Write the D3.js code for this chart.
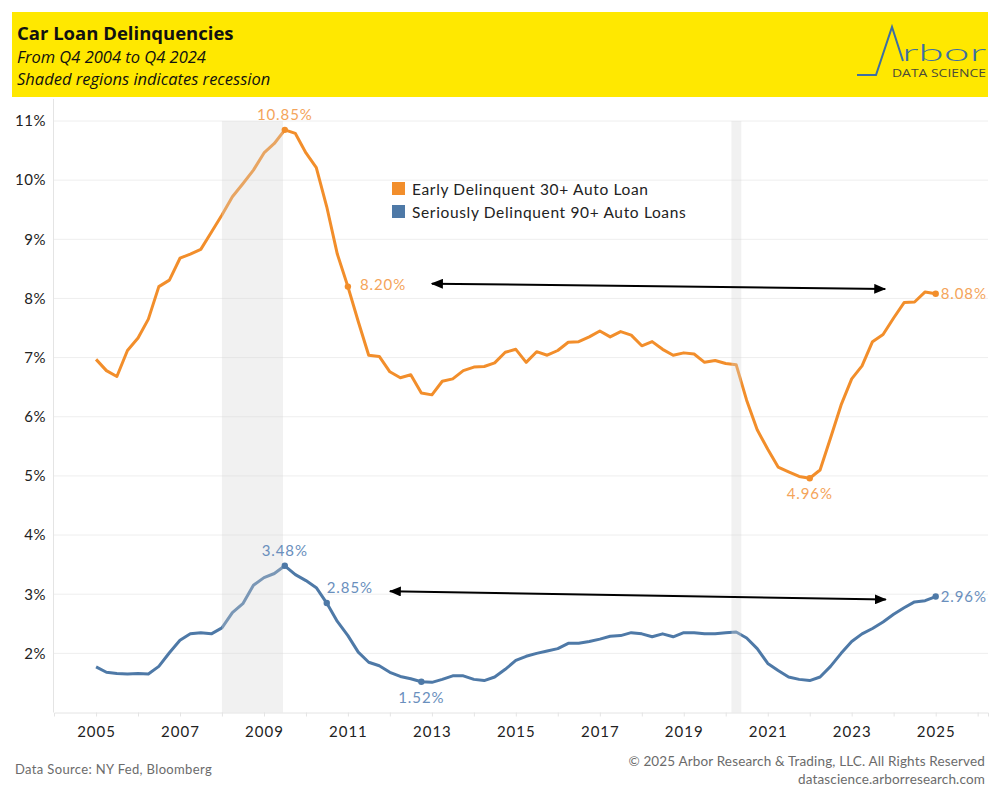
<!DOCTYPE html>
<html>
<head>
<meta charset="utf-8">
<script src="https://cdn.jsdelivr.net/npm/d3@7"></script>
<style>
  body { margin: 0; background: #fff; }
  svg { display: block; font-family: Lato, "Noto Sans", sans-serif; }
</style>
</head>
<body>
<script>
// Quarters, Q4 2004 to Q4 2024
const quarters = [
  "2004Q4",
  "2005Q1","2005Q2","2005Q3","2005Q4",
  "2006Q1","2006Q2","2006Q3","2006Q4",
  "2007Q1","2007Q2","2007Q3","2007Q4",
  "2008Q1","2008Q2","2008Q3","2008Q4",
  "2009Q1","2009Q2","2009Q3","2009Q4",
  "2010Q1","2010Q2","2010Q3","2010Q4",
  "2011Q1","2011Q2","2011Q3","2011Q4",
  "2012Q1","2012Q2","2012Q3","2012Q4",
  "2013Q1","2013Q2","2013Q3","2013Q4",
  "2014Q1","2014Q2","2014Q3","2014Q4",
  "2015Q1","2015Q2","2015Q3","2015Q4",
  "2016Q1","2016Q2","2016Q3","2016Q4",
  "2017Q1","2017Q2","2017Q3","2017Q4",
  "2018Q1","2018Q2","2018Q3","2018Q4",
  "2019Q1","2019Q2","2019Q3","2019Q4",
  "2020Q1","2020Q2","2020Q3","2020Q4",
  "2021Q1","2021Q2","2021Q3","2021Q4",
  "2022Q1","2022Q2","2022Q3","2022Q4",
  "2023Q1","2023Q2","2023Q3","2023Q4",
  "2024Q1","2024Q2","2024Q3","2024Q4"
];

// Early Delinquent 30+ (%)
const early30 = [
  6.97,
  6.78, 6.68, 7.12, 7.33,
  7.65, 8.20, 8.31, 8.68,
  8.75, 8.83, 9.12, 9.41,
  9.72, 9.94, 10.17, 10.46,
  10.62, 10.85, 10.79, 10.46,
  10.21, 9.55, 8.75, 8.20,
  7.61, 7.04, 7.02, 6.76,
  6.66, 6.71, 6.40, 6.37,
  6.60, 6.64, 6.78, 6.84,
  6.85, 6.91, 7.09, 7.14,
  6.92, 7.10, 7.04, 7.12,
  7.26, 7.27, 7.35, 7.45,
  7.35, 7.44, 7.38, 7.20,
  7.27, 7.14, 7.04, 7.08,
  7.06, 6.92, 6.95, 6.90,
  6.88, 6.28, 5.78, 5.45,
  5.15, 5.07, 4.99, 4.96,
  5.10, 5.64, 6.20, 6.64,
  6.86, 7.27, 7.39, 7.67,
  7.93, 7.94, 8.11, 8.08
];

// Seriously Delinquent 90+ (%)
const serious90 = [
  1.77,
  1.68, 1.66, 1.65, 1.66,
  1.65, 1.78, 2.01, 2.22,
  2.33, 2.35, 2.33, 2.43,
  2.69, 2.84, 3.15, 3.28,
  3.35, 3.48, 3.33, 3.23,
  3.11, 2.85, 2.54, 2.30,
  2.02, 1.85, 1.79, 1.68,
  1.61, 1.57, 1.52, 1.51,
  1.56, 1.62, 1.62, 1.56,
  1.54, 1.60, 1.73, 1.88,
  1.95, 2.00, 2.04, 2.08,
  2.17, 2.17, 2.20, 2.24,
  2.29, 2.30, 2.35, 2.33,
  2.28, 2.33, 2.28, 2.35,
  2.35, 2.33, 2.33, 2.35,
  2.36, 2.26, 2.08, 1.83,
  1.71, 1.60, 1.56, 1.54,
  1.60, 1.78, 2.00, 2.20,
  2.33, 2.42, 2.53, 2.66,
  2.77, 2.87, 2.89, 2.96
];

const seriesNames = ["Early Delinquent 30+ Auto Loan", "Seriously Delinquent 90+ Auto Loans"];
const yTicks = [2, 3, 4, 5, 6, 7, 8, 9, 10, 11];
const xLabelYears = [2005, 2007, 2009, 2011, 2013, 2015, 2017, 2019, 2021, 2023, 2025];
const xTickYears = d3.range(2005, 2027);

// recessions (start, end)
const recessions = [
  ["2008-01-01", "2009-06-15"],
  ["2020-02-20", "2020-05-15"]
];

// labelled points: series index, quarter, placement
const labelled = [
  [0, "2009Q2", "above"], [0, "2010Q4", "rightFar"], [0, "2021Q4", "below"], [0, "2024Q4", "right"],
  [1, "2009Q2", "above"], [1, "2010Q2", "aboveRight"], [1, "2012Q3", "below"], [1, "2024Q4", "right"]
];

// comparison arrows (date, value) -> (date, value)
const arrows = [
  [["2013-01-01", 8.25], ["2023-10-20", 8.16]],
  [["2012-01-01", 3.05], ["2023-10-25", 2.91]]
];

// quarter "2009Q2" -> first day after the quarter (Tableau puts Q4 2004 on the 2005 tick)
function qDate(q) {
  return new Date(+q.slice(0, 4), +q.slice(5) * 3, 1);
}

const width = 1000, height = 800;
const plot = {left: 54, right: 988, top: 99, bottom: 712.5};
const colors = ["#f28e2b", "#4e79a7"];
const labelColors = ["#f4a45a", "#6a8fbd"];

const svg = d3.select("body").append("svg")
  .attr("width", width)
  .attr("height", height);

// header band
svg.append("rect")
  .attr("x", 12).attr("y", 12)
  .attr("width", 976).attr("height", 85)
  .attr("fill", "#ffe800");
svg.append("text")
  .attr("x", 17).attr("y", 40)
  .attr("font-family", "'Open Sans', sans-serif")
  .attr("font-size", 18.5).attr("font-weight", "bold")
  .attr("fill", "#111")
  .text("Car Loan Delinquencies");
svg.append("text")
  .attr("x", 17).attr("y", 63)
  .attr("font-family", "'Open Sans', sans-serif")
  .attr("font-size", 16.5).attr("font-style", "italic")
  .attr("fill", "#111")
  .text("From Q4 2004 to Q4 2024");
svg.append("text")
  .attr("x", 17).attr("y", 85)
  .attr("font-family", "'Open Sans', sans-serif")
  .attr("font-size", 16.5).attr("font-style", "italic")
  .attr("fill", "#111")
  .text("Shaded regions indicates recession");

// logo
const logo = svg.append("g");
logo.append("path")
  .attr("d", "M857,75 L876,75 L892,27 L903,61")
  .attr("fill", "none")
  .attr("stroke", "#3d6fa3")
  .attr("stroke-width", 2);
logo.append("text")
  .attr("x", 986).attr("y", 61)
  .attr("text-anchor", "end")
  .attr("font-family", "Lato, sans-serif")
  .attr("font-size", 24).attr("font-weight", 300)
  .attr("fill", "#3d6fa3")
  .attr("textLength", 84)
  .attr("lengthAdjust", "spacingAndGlyphs")
  .text("rbor");
logo.append("text")
  .attr("x", 986).attr("y", 77)
  .attr("text-anchor", "end")
  .attr("font-family", "'Open Sans', sans-serif")
  .attr("font-size", 10.5)
  .attr("fill", "#4a4a3a")
  .attr("textLength", 94)
  .attr("lengthAdjust", "spacingAndGlyphs")
  .text("DATA SCIENCE");

// scales
const x = d3.scaleTime()
  .domain([new Date(2004, 0, 1), new Date(2026, 3, 1)])
  .range([plot.left, plot.right]);
const y = d3.scaleLinear()
  .domain([1, 11])
  .range([plot.bottom, 121]);

// grid
svg.append("g")
  .selectAll("line")
  .data(yTicks)
  .join("line")
  .attr("x1", plot.left).attr("x2", plot.right)
  .attr("y1", d => y(d)).attr("y2", d => y(d))
  .attr("stroke", "#eeeeee");

// y axis
const yAxis = d3.axisLeft(y)
  .tickValues(yTicks)
  .tickSize(0)
  .tickPadding(8)
  .tickFormat(d => d + "%");
svg.append("g")
  .attr("transform", `translate(${plot.left},0)`)
  .call(yAxis)
  .call(g => g.select(".domain").remove())
  .selectAll("text")
  .attr("font-family", "Lato, sans-serif")
  .attr("font-size", 15)
  .attr("letter-spacing", 0.5)
  .attr("fill", "#222");
svg.append("line")
  .attr("x1", plot.left - 0.5).attr("x2", plot.left - 0.5)
  .attr("y1", plot.top).attr("y2", plot.bottom)
  .attr("stroke", "#e4e4e4");

// x axis
const xAxis = d3.axisBottom(x)
  .tickValues(xTickYears.map(yr => new Date(yr, 0, 1)))
  .tickSize(4)
  .tickPadding(10)
  .tickFormat(d => xLabelYears.includes(d.getFullYear()) ? d.getFullYear() : "");
svg.append("g")
  .attr("transform", `translate(0,${plot.bottom})`)
  .call(xAxis)
  .call(g => g.select(".domain").attr("stroke", "#e4e4e4"))
  .call(g => g.selectAll(".tick line").attr("stroke", "#e4e4e4"))
  .selectAll("text")
  .attr("font-family", "Lato, sans-serif")
  .attr("font-size", 15)
  .attr("letter-spacing", 1)
  .attr("fill", "#222");

// lines
const lineFunction = d3.line()
  .x(d => x(d.date))
  .y(d => y(d.value))
  .curve(d3.curveLinear);
const seriesData = [early30, serious90].map(vals =>
  vals.map((v, i) => ({quarter: quarters[i], date: qDate(quarters[i]), value: v})));

seriesData.forEach((pts, i) => {
  svg.append("path")
    .datum(pts)
    .attr("d", lineFunction)
    .attr("fill", "none")
    .attr("stroke", colors[i])
    .attr("stroke-width", 3)
    .attr("stroke-linejoin", "round");
});

// recession bands drawn over lines (washes them out like the original)
svg.append("g")
  .selectAll("rect")
  .data(recessions)
  .join("rect")
  .attr("x", d => x(new Date(d[0])))
  .attr("width", d => x(new Date(d[1])) - x(new Date(d[0])))
  .attr("y", y(11))
  .attr("height", plot.bottom - y(11))
  .attr("fill", "#d6d6d6")
  .attr("fill-opacity", 0.33);

// labelled points
labelled.forEach(([si, q, pos]) => {
  const p = seriesData[si].find(d => d.quarter === q);
  const px = x(p.date), py = y(p.value);
  const val = [early30, serious90][si][quarters.indexOf(q)];
  svg.append("circle")
    .attr("cx", px).attr("cy", py).attr("r", 3.2)
    .attr("fill", colors[si]);
  const t = svg.append("text")
    .attr("font-family", "Lato, sans-serif")
    .attr("font-size", 15)
    .attr("letter-spacing", 0.9)
    .attr("fill", labelColors[si])
    .text(val.toFixed(2) + "%");
  if (pos === "above") t.attr("x", px).attr("y", py - 10).attr("text-anchor", "middle");
  if (pos === "below") t.attr("x", px).attr("y", py + 21).attr("text-anchor", "middle");
  if (pos === "right") t.attr("x", px + 5).attr("y", py + 5);
  if (pos === "rightFar") t.attr("x", px + 12).attr("y", py + 3);
  if (pos === "aboveRight") t.attr("x", px).attr("y", py - 10);
});

// arrows
svg.append("defs").append("marker")
  .attr("id", "head")
  .attr("viewBox", "0 0 12 10")
  .attr("refX", 11).attr("refY", 5)
  .attr("markerWidth", 12).attr("markerHeight", 10)
  .attr("markerUnits", "userSpaceOnUse")
  .attr("orient", "auto-start-reverse")
  .append("path")
  .attr("d", "M0,0 L12,5 L0,10 Z")
  .attr("fill", "#000");
svg.append("g")
  .selectAll("line")
  .data(arrows)
  .join("line")
  .attr("x1", d => x(new Date(d[0][0]))).attr("y1", d => y(d[0][1]))
  .attr("x2", d => x(new Date(d[1][0]))).attr("y2", d => y(d[1][1]))
  .attr("stroke", "#000")
  .attr("stroke-width", 2)
  .attr("marker-start", "url(#head)")
  .attr("marker-end", "url(#head)");

// legend
const legend = svg.append("g").attr("transform", "translate(392,182)");
seriesNames.forEach((name, i) => {
  legend.append("rect")
    .attr("x", 0).attr("y", i * 23)
    .attr("width", 13).attr("height", 13)
    .attr("fill", colors[i]);
  legend.append("text")
    .attr("x", 20).attr("y", i * 23 + 12.5)
    .attr("font-size", 15.5)
    .attr("letter-spacing", 0.65)
    .attr("fill", "#222")
    .text(name);
});

// footer
svg.append("text")
  .attr("x", 15).attr("y", 774)
  .attr("font-size", 13)
  .attr("letter-spacing", 0.35)
  .attr("fill", "#6b6b6b")
  .text("Data Source: NY Fed, Bloomberg");
svg.append("text")
  .attr("x", 985).attr("y", 766)
  .attr("text-anchor", "end")
  .attr("font-size", 13.5)
  .attr("letter-spacing", 0.15)
  .attr("fill", "#6b6b6b")
  .text("© 2025 Arbor Research & Trading, LLC. All Rights Reserved");
svg.append("text")
  .attr("x", 985).attr("y", 784)
  .attr("text-anchor", "end")
  .attr("font-size", 13.5)
  .attr("letter-spacing", 0.15)
  .attr("fill", "#6b6b6b")
  .text("datascience.arborresearch.com");
</script>
</body>
</html>
